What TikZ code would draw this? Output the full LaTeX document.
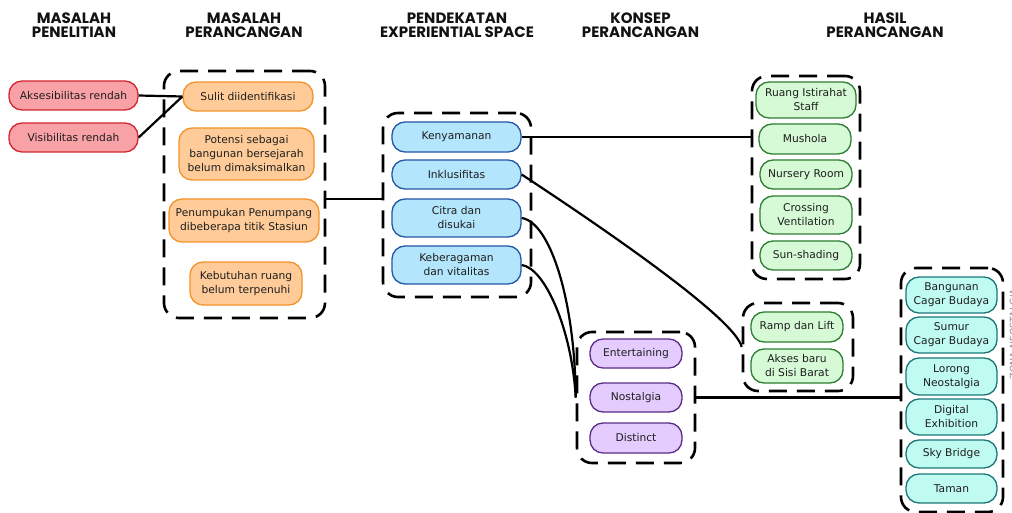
\documentclass[tikz,border=0pt]{standalone}
\usepackage{fontspec}
\setmainfont{DejaVu Sans}
\newfontfamily\hdrfont{Poppins}
\definecolor{txt}{HTML}{1E1E1E}
\definecolor{redfill}{HTML}{F8A1A6}
\definecolor{redline}{HTML}{D42630}
\definecolor{orfill}{HTML}{FFCC99}
\definecolor{orline}{HTML}{F39229}
\definecolor{blfill}{HTML}{B3E5FC}
\definecolor{blline}{HTML}{2356A5}
\definecolor{pufill}{HTML}{E5CCFF}
\definecolor{puline}{HTML}{5C2D85}
\definecolor{grfill}{HTML}{D6FAD6}
\definecolor{grline}{HTML}{2E7D32}
\definecolor{cyfill}{HTML}{C0FBF2}
\definecolor{cyline}{HTML}{1B7676}
\begin{document}
\begin{tikzpicture}[x=1pt,y=-1pt,
  box/.style={draw, line width=1.3pt, rounded corners=13pt, align=center, inner sep=0pt, text=txt,
    font=\fontsize{10.7}{14}\selectfont},
  redbox/.style={box, fill=redfill, draw=redline},
  orbox/.style={box, fill=orfill, draw=orline},
  blbox/.style={box, fill=blfill, draw=blline},
  pubox/.style={box, fill=pufill, draw=puline},
  grbox/.style={box, fill=grfill, draw=grline},
  cybox/.style={box, fill=cyfill, draw=cyline},
  cont/.style={draw=black, line width=2.6pt, dash pattern=on 18pt off 10pt, rounded corners=15pt, inner sep=0pt},
  hdr/.style={align=center, text=black!93, font=\hdrfont\bfseries\fontsize{15}{14}\selectfont},
  link/.style={draw=black, line width=2.2pt}
]
\useasboundingbox (0,0) rectangle (1012,513);

% headers
\node[hdr] (h1) at (74,25) {MASALAH\\PENELITIAN};
\node[hdr] (h2) at (244,25) {MASALAH\\PERANCANGAN};
\node[hdr] (h3) at (457,25) {PENDEKATAN\\EXPERIENTIAL SPACE};
\node[hdr] (h4) at (640.5,25) {KONSEP\\PERANCANGAN};
\node[hdr] (h5) at (885,25) {HASIL\\PERANCANGAN};

% containers
\node[cont, minimum width=161pt, minimum height=247pt] (obox) at (244.5,194.5) {};
\node[cont, minimum width=148pt, minimum height=184pt] (bbox) at (457,205) {};
\node[cont, minimum width=118pt, minimum height=131pt] (kbox) at (636,397.5) {};
\node[cont, minimum width=108pt, minimum height=203pt] (gbox) at (806,177.5) {};
\node[cont, minimum width=110pt, minimum height=88pt] (gsbox) at (798,347) {};
\node[cont, minimum width=102pt, minimum height=244pt] (cbox) at (952,390) {};

% red
\node[redbox, minimum width=129pt, minimum height=29pt] (aks) at (73.5,95.5) {Aksesibilitas rendah};
\node[redbox, minimum width=129pt, minimum height=29pt] (vis) at (73.5,137.5) {Visibilitas rendah};

% orange
\node[orbox, minimum width=130pt, minimum height=29pt] (sul) at (248,96.5) {Sulit diidentifikasi};
\node[orbox, minimum width=135pt, minimum height=52pt] (pot) at (246.5,154) {Potensi sebagai\\bangunan bersejarah\\belum dimaksimalkan};
\node[orbox, minimum width=150pt, minimum height=43pt] (pen) at (244,220.5) {Penumpukan Penumpang\\dibeberapa titik Stasiun};
\node[orbox, minimum width=112pt, minimum height=43pt] (keb) at (246,283.5) {Kebutuhan ruang\\belum terpenuhi};

% blue
\node[blbox, minimum width=129pt, minimum height=30pt] (ken) at (456.5,137) {Kenyamanan};
\node[blbox, minimum width=129pt, minimum height=29pt] (ink) at (456.5,174.5) {Inklusifitas};
\node[blbox, minimum width=129pt, minimum height=38pt] (cit) at (456.5,218) {Citra dan\\disukai};
\node[blbox, minimum width=129pt, minimum height=38pt] (ber) at (456.5,265) {Keberagaman\\dan vitalitas};

% purple
\node[pubox, minimum width=92pt, minimum height=29pt] (ent) at (636,353.5) {Entertaining};
\node[pubox, minimum width=92pt, minimum height=29pt] (nos) at (636,397.5) {Nostalgia};
\node[pubox, minimum width=92pt, minimum height=30pt] (dis) at (636,438) {Distinct};

% green 1
\node[grbox, minimum width=100pt, minimum height=36pt] (rua) at (806,100) {Ruang Istirahat\\Staff};
\node[grbox, minimum width=92pt, minimum height=30pt] (mus) at (805,139) {Mushola};
\node[grbox, minimum width=92pt, minimum height=29pt] (nur) at (806,174.5) {Nursery Room};
\node[grbox, minimum width=92pt, minimum height=38pt] (cro) at (806,215) {Crossing\\Ventilation};
\node[grbox, minimum width=92pt, minimum height=29pt] (sun) at (806,255.5) {Sun-shading};

% green 2
\node[grbox, minimum width=92pt, minimum height=30pt] (ram) at (797,327) {Ramp dan Lift};
\node[grbox, minimum width=92pt, minimum height=34pt] (akb) at (797,366) {Akses baru\\di Sisi Barat};

% cyan
\node[cybox, minimum width=91pt, minimum height=36pt] (ban) at (951.5,295) {Bangunan\\Cagar Budaya};
\node[cybox, minimum width=91pt, minimum height=36pt] (sum) at (951.5,335) {Sumur\\Cagar Budaya};
\node[cybox, minimum width=91pt, minimum height=37pt] (lor) at (951.5,376.5) {Lorong\\Neostalgia};
\node[cybox, minimum width=91pt, minimum height=36pt] (dig) at (951.5,417) {Digital\\Exhibition};
\node[cybox, minimum width=91pt, minimum height=28pt] (sky) at (951.5,454) {Sky Bridge};
\node[cybox, minimum width=91pt, minimum height=29pt] (tam) at (951.5,488.5) {Taman};

% side label (cut by the right edge, as in the reference)
\node[rotate=90, text=black!45, font=\fontsize{9.5}{10}\selectfont] (zona) at (1013.5,334) {ZONA NEOSTALGIA};

% connectors
\coordinate (j1) at (354,199);
\path[link] (aks.east) -- (sul.west);
\path[link] (vis.east) -- (sul.west);
\path[link] (obox.east |- j1) -- (bbox.west |- j1);
\path[link] (ken.east) -- (ken.east -| gbox.west);
\path[link] (ink.east) .. controls (600,226) and (735,318) .. (gsbox.west);
\path[link] (cit.east) .. controls (550,222) and (575,300) .. (kbox.west);
\path[link] (ber.east) .. controls (545,268) and (572,330) .. (kbox.west);
\path[link] (kbox.east |- nos.east) -- (cbox.west |- nos.east);
\end{tikzpicture}
\end{document}
